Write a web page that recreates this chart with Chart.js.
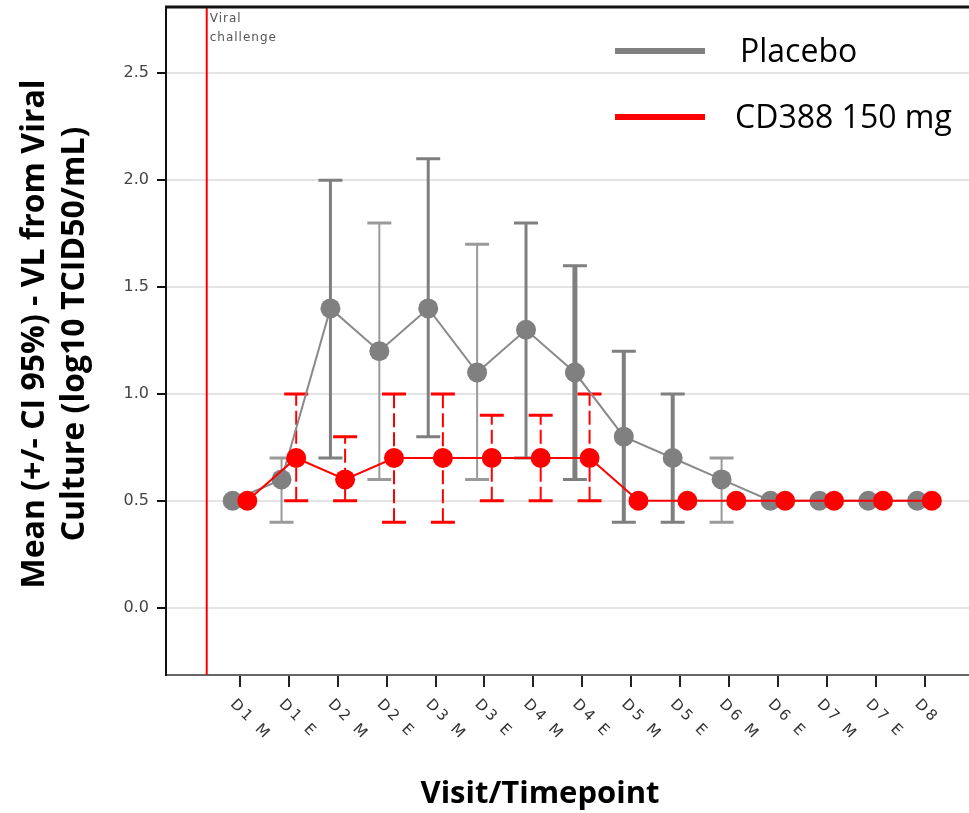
<!DOCTYPE html>
<html>
<head>
<meta charset="utf-8">
<script src="https://cdn.jsdelivr.net/npm/chart.js@4.4.0/dist/chart.umd.min.js"></script>
<style>
  html, body { margin: 0; padding: 0; background: #fff; overflow: hidden; }
  #vlChart { display: block; }
</style>
</head>
<body>
<canvas id="vlChart" width="969" height="813"></canvas>
<script>
// Visits / timepoints along the x axis
const categories = ['D1 M', 'D1 E', 'D2 M', 'D2 E', 'D3 M', 'D3 E', 'D4 M', 'D4 E',
  'D5 M', 'D5 E', 'D6 M', 'D6 E', 'D7 M', 'D7 E', 'D8'];

// Placebo: mean and 95% CI
const placeboMean = [0.5, 0.6, 1.4, 1.2, 1.4, 1.1, 1.3, 1.1, 0.8, 0.7, 0.6, 0.5, 0.5, 0.5, 0.5];
const placeboLow = [null, 0.4, 0.7, 0.6, 0.8, 0.6, 0.7, 0.6, 0.4, 0.4, 0.4, null, null, null, null];
const placeboHigh = [null, 0.7, 2.0, 1.8, 2.1, 1.7, 1.8, 1.6, 1.2, 1.0, 0.7, null, null, null, null];

// CD388 150 mg: mean and 95% CI
const cd388Mean = [0.5, 0.7, 0.6, 0.7, 0.7, 0.7, 0.7, 0.7, 0.5, 0.5, 0.5, 0.5, 0.5, 0.5, 0.5];
const cd388Low = [null, 0.5, 0.5, 0.4, 0.4, 0.5, 0.5, 0.5, null, null, null, null, null, null, null];
const cd388High = [null, 1.0, 0.8, 1.0, 1.0, 0.9, 0.9, 1.0, null, null, null, null, null, null, null];

// Y tick values
const yTicks = [0.0, 0.5, 1.0, 1.5, 2.0, 2.5];

// Viral challenge marker sits before the first visit
const challengeAt = -0.68;

// groups are dodged left/right of each visit
const dodge = 0.15;

const GRAY = '#808080';
const RED = '#ff0000';

function toPoints(values, shift) {
  return values.map((v, i) => ({ x: i + shift, y: v }));
}

/**
 * Error bars (CI 95%) drawn behind the markers
 */
const errorBarPlugin = {
  id: 'errorBars',
  beforeDatasetsDraw(chart, args, opts) {
    const { ctx, scales: { x, y } } = chart;
    const series = [
      { low: placeboLow, high: placeboHigh, shift: -dodge, color: '#7f7f7f', dash: [], widths: opts.placeboWidths },
      { low: cd388Low, high: cd388High, shift: dodge, color: RED, dash: [14, 5], widths: null }
    ];
    ctx.save();
    series.forEach(s => {
      s.low.forEach((lo, i) => {
        const hi = s.high[i];
        if (lo === null || hi === null) return;
        const px = x.getPixelForValue(i + s.shift);
        const pLo = y.getPixelForValue(lo);
        const pHi = y.getPixelForValue(hi);
        const w = s.widths ? s.widths[i] : 2;
        ctx.strokeStyle = s.widths && w < 3 ? '#9a9a9a' : s.color;
        ctx.lineWidth = w;
        ctx.setLineDash(s.dash);
        ctx.beginPath();
        ctx.moveTo(px, pLo);
        ctx.lineTo(px, pHi);
        ctx.stroke();
        // caps
        ctx.setLineDash([]);
        ctx.lineWidth = 3;
        ctx.beginPath();
        ctx.moveTo(px - 12, pLo);
        ctx.lineTo(px + 12, pLo);
        ctx.moveTo(px - 12, pHi);
        ctx.lineTo(px + 12, pHi);
        ctx.stroke();
      });
    });
    ctx.restore();
  }
};

/**
 * Frame, challenge line, rotated visit labels, titles and legend
 */
const decorPlugin = {
  id: 'decor',
  beforeDatasetsDraw(chart) {
    const { ctx, chartArea: area, scales: { x } } = chart;
    const cx = x.getPixelForValue(challengeAt);
    ctx.save();
    ctx.strokeStyle = RED;
    ctx.lineWidth = 2;
    ctx.beginPath();
    ctx.moveTo(cx, area.top);
    ctx.lineTo(cx, area.bottom);
    ctx.stroke();

    ctx.fillStyle = '#555';
    ctx.font = '12px "DejaVu Sans"';
    ctx.letterSpacing = '1px';
    ctx.textAlign = 'left';
    ctx.textBaseline = 'top';
    ctx.fillText('Viral', cx + 3, area.top + 6);
    ctx.fillText('challenge', cx + 3, area.top + 25);
    ctx.restore();
  },
  afterDraw(chart) {
    const { ctx, chartArea: area, scales: { x } } = chart;
    ctx.save();

    // top frame line
    ctx.strokeStyle = '#111';
    ctx.lineWidth = 3;
    ctx.beginPath();
    ctx.moveTo(area.left - 1, area.top);
    ctx.lineTo(area.right, area.top);
    ctx.stroke();

    // visit labels rotated 45 degrees clockwise
    ctx.fillStyle = '#333';
    ctx.font = '15px "DejaVu Sans"';
    ctx.letterSpacing = '3px';
    ctx.textAlign = 'left';
    ctx.textBaseline = 'middle';
    categories.forEach((label, i) => {
      const px = x.getPixelForValue(i);
      ctx.save();
      ctx.translate(px - 7.5, area.bottom + 27);
      ctx.rotate(Math.PI / 4);
      ctx.fillText(label, 0, 0);
      ctx.restore();
    });
    ctx.letterSpacing = '0px';

    // axis titles
    ctx.fillStyle = '#000';
    ctx.font = 'bold 31px "Open Sans"';
    ctx.textAlign = 'center';
    ctx.textBaseline = 'middle';
    ctx.fillText('Visit/Timepoint', 540, 794);

    ctx.save();
    ctx.font = 'bold 32px "Open Sans"';
    ctx.translate(35, 334);
    ctx.rotate(-Math.PI / 2);
    ctx.fillText('Mean (+/- CI 95%) - VL from Viral', 0, 0);
    ctx.fillText('Culture (log10 TCID50/mL)', 0, 40);
    ctx.restore();

    // legend
    const items = [
      { label: 'Placebo', color: GRAY, y: 51, tx: 740 },
      { label: 'CD388 150 mg', color: RED, y: 117, tx: 735 }
    ];
    ctx.font = '32px "Open Sans"';
    ctx.textAlign = 'left';
    items.forEach(it => {
      ctx.strokeStyle = it.color;
      ctx.lineWidth = 6;
      ctx.beginPath();
      ctx.moveTo(615, it.y);
      ctx.lineTo(705, it.y);
      ctx.stroke();
      ctx.fillStyle = '#000';
      ctx.fillText(it.label, it.tx, it.y + 2);
    });

    ctx.restore();
  }
};

const canvas = document.getElementById('vlChart');

new Chart(canvas, {
  type: 'line',
  data: {
    datasets: [{
      label: 'Placebo',
      data: toPoints(placeboMean, -dodge),
      borderColor: '#8a8a8a',
      borderWidth: 2,
      backgroundColor: GRAY,
      pointBackgroundColor: GRAY,
      pointBorderWidth: 0,
      pointRadius: 10,
      tension: 0,
      order: 2
    }, {
      label: 'CD388 150 mg',
      data: toPoints(cd388Mean, dodge),
      borderColor: RED,
      borderWidth: 2,
      backgroundColor: RED,
      pointBackgroundColor: RED,
      pointBorderWidth: 0,
      pointRadius: 10,
      tension: 0,
      order: 1
    }]
  },
  options: {
    responsive: false,
    animation: false,
    layout: { autoPadding: false, padding: { top: 7, right: 0, bottom: 0, left: 0 } },
    plugins: {
      legend: { display: false },
      tooltip: { enabled: false },
      errorBars: { placeboWidths: [2, 2, 3, 2, 3, 2, 3, 5, 4, 4, 2, 2, 2, 2, 2] }
    },
    scales: {
      x: {
        type: 'linear',
        min: -1.513,
        max: 14.91,
        afterBuildTicks: scale => {
          scale.ticks = categories.map((c, i) => ({ value: i }));
        },
        afterFit: scale => {
          scale.height = 138;
          scale.paddingLeft = 0;
          scale.paddingRight = 0;
        },
        ticks: { display: false },
        grid: {
          drawOnChartArea: false,
          drawTicks: true,
          tickLength: 12,
          tickColor: '#222',
          lineWidth: 2
        },
        border: { color: '#666', width: 2 }
      },
      y: {
        min: -0.315,
        max: 2.81,
        afterBuildTicks: scale => {
          scale.ticks = yTicks.map(v => ({ value: v }));
        },
        afterFit: scale => {
          scale.width = 166;
          scale.paddingTop = 0;
          scale.paddingBottom = 0;
        },
        ticks: {
          padding: 8,
          color: '#444',
          font: { family: '"DejaVu Sans"', size: 16 },
          callback: v => Number(v).toFixed(1)
        },
        grid: {
          color: '#e4e4e4',
          lineWidth: 2,
          tickColor: '#111',
          tickLength: 9
        },
        border: { color: '#111', width: 2 }
      }
    }
  },
  plugins: [errorBarPlugin, decorPlugin]
});
</script>
</body>
</html>
